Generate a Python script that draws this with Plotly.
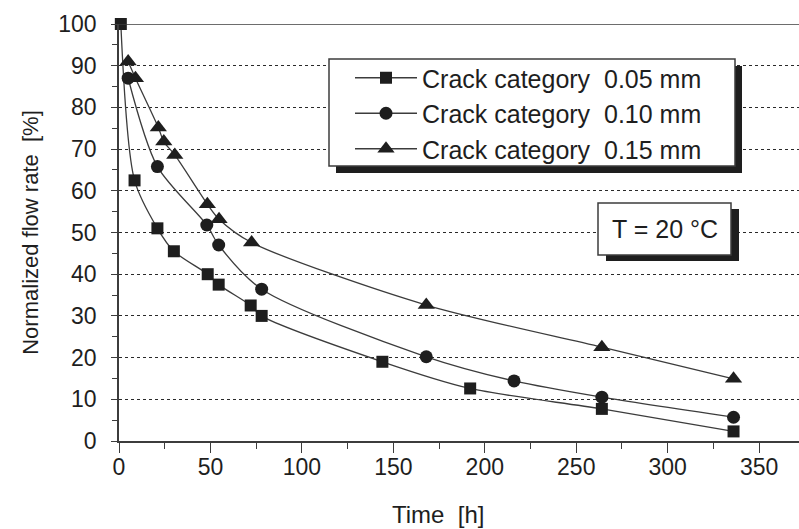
import plotly.graph_objects as go

# Measured flow-rate decay for three crack widths at 20 °C
t_005 = [1, 8.5, 21, 30, 48.5, 54.5, 72, 78, 144, 192, 264, 336]
q_005 = [100, 62.5, 51, 45.5, 40, 37.5, 32.5, 30, 19, 12.6, 7.7, 2.3]

t_010 = [5, 21, 48, 54.5, 78, 168, 216, 264, 336]
q_010 = [87, 65.8, 51.8, 47, 36.4, 20.2, 14.4, 10.5, 5.7]

t_015 = [5, 9, 21.5, 24.5, 30.5, 48.3, 54.7, 72.5, 168, 264, 336]
q_015 = [91, 87, 75.2, 71.8, 68.6, 56.8, 53.2, 47.6, 32.6, 22.5, 14.9]

series_names = ["Crack category  0.05 mm", "Crack category  0.10 mm", "Crack category  0.15 mm"]
x_ticks = [0, 50, 100, 150, 200, 250, 300, 350]
y_ticks = [0, 10, 20, 30, 40, 50, 60, 70, 80, 90, 100]

W, H = 799, 529
L, R, T, B = 119, 0, 24, 88
PW, PH = W - L - R, H - T - B

FONT = "Liberation Sans, Arial, sans-serif"
INK = "#1e1e1e"
LINE = "#3c3c3c"


def px(x):
    return (x - L) / PW


def py(y):
    return (H - B - y) / PH


fig = go.Figure()
for name, tx, qy, sym, size in [
    (series_names[0], t_005, q_005, "square", 12),
    (series_names[1], t_010, q_010, "circle", 13),
    (series_names[2], t_015, q_015, "triangle-up", 15),
]:
    fig.add_trace(go.Scatter(
        x=tx, y=qy, name=name, mode="lines+markers",
        line=dict(color=LINE, width=1.3, shape="spline", smoothing=0.8),
        marker=dict(symbol=sym, size=size, color=INK),
        cliponaxis=False,
    ))

shapes = []


def boxed(x0, y0, x1, y1, off_x, off_y):
    # drop shadow first, then the white framed panel on top
    shapes.append(dict(type="rect", xref="paper", yref="paper", layer="above",
                       x0=px(x0 + off_x), x1=px(x1 + off_x), y0=py(y1 + off_y), y1=py(y0 + off_y),
                       fillcolor=INK, line=dict(width=0)))
    shapes.append(dict(type="rect", xref="paper", yref="paper", layer="above",
                       x0=px(x0), x1=px(x1), y0=py(y1), y1=py(y0),
                       fillcolor="white", line=dict(color=LINE, width=1.5)))


boxed(329, 59, 735, 166, 7, 7)
boxed(598, 203, 731, 255, 8, 6)

# solid frame line along the top of the plot
shapes.append(dict(type="line", xref="paper", yref="y", x0=0, x1=1, y0=100, y1=100,
                   line=dict(color=LINE, width=1.5), layer="above"))

fig.update_layout(
    width=W, height=H,
    margin=dict(l=L, r=R, t=T, b=B),
    paper_bgcolor="white", plot_bgcolor="white",
    font=dict(family=FONT, color=INK),
    shapes=shapes,
    showlegend=True,
    legend=dict(
        x=px(350), y=py(55), xanchor="left", yanchor="top",
        bgcolor="rgba(0,0,0,0)", borderwidth=0,
        font=dict(family=FONT, size=25, color=INK),
        tracegroupgap=0, itemwidth=62,
    ),
    annotations=[
        dict(x=px(664.5), y=py(229), xref="paper", yref="paper",
             xanchor="center", yanchor="middle",
             text="T = 20 °C", showarrow=False,
             font=dict(family=FONT, size=25, color=INK)),
        dict(x=px(438), y=py(514), xref="paper", yref="paper",
             xanchor="center", yanchor="middle",
             text="Time  [h]", showarrow=False,
             font=dict(family=FONT, size=24, color=INK)),
    ],
)

fig.update_xaxes(
    range=[0, PW / 1.829], tickvals=x_ticks, ticktext=[str(v) for v in x_ticks],
    showgrid=False, zeroline=False,
    showline=True, linecolor=LINE, linewidth=1.5,
    ticks="outside", ticklen=10, tickwidth=1.2, tickcolor=LINE,
    minor=dict(dtick=25, tick0=0, ticks="outside", ticklen=6, tickwidth=1.2, tickcolor=LINE, showgrid=False),
    tickfont=dict(family=FONT, size=23, color=INK),
    ticklabelstandoff=-5,
)

fig.update_yaxes(
    range=[0, 100], tickvals=y_ticks, ticktext=[str(v) for v in y_ticks],
    showgrid=True, gridcolor="#2a2a2a", gridwidth=1, griddash="dot",
    zeroline=False,
    showline=True, linecolor=LINE, linewidth=1.5,
    ticks="outside", ticklen=6, tickwidth=1.2, tickcolor=LINE,
    minor=dict(dtick=5, tick0=0, ticks="outside", ticklen=5, tickwidth=1.2, tickcolor=LINE, showgrid=False),
    tickfont=dict(family=FONT, size=23, color=INK),
    ticklabelstandoff=10,
    title=dict(text="Normalized flow rate  [%]", font=dict(family=FONT, size=22, color=INK), standoff=14),
)

fig.write_html("out.html")
